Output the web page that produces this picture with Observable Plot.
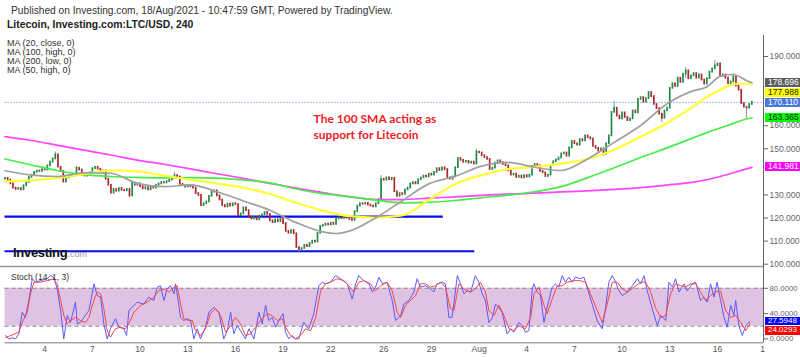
<!DOCTYPE html>
<html><head><meta charset="utf-8">
<script src="https://cdn.jsdelivr.net/npm/d3@7"></script>
<script src="https://cdn.jsdelivr.net/npm/@observablehq/plot@0.6"></script>
<style>
body{margin:0;background:#fff;}
#wrap{position:relative;width:800px;height:357px;overflow:hidden;font-family:"Liberation Sans",Arial,sans-serif;background:#fff;}
#wrap svg{position:absolute;left:0;}
.abs{position:absolute;white-space:nowrap;}
.badge{position:absolute;left:765px;width:35px;padding-left:3px;box-sizing:border-box;}
</style></head><body><div id="wrap"></div>
<script>
// ---------- DATA ----------
const firstOpen = 136.8;
const closes = [
137.2,136.4,134.8,133.0,132.4,132.8,132.2,134.0,135.4,137.6,
138.6,139.8,140.4,140.2,141.0,140.8,142.6,144.2,145.6,147.4,
142.0,140.2,135.6,137.4,138.4,138.0,138.6,141.6,140.8,138.4,
138.2,138.8,139.6,141.4,142.0,141.2,139.8,140.4,136.8,134.2,
130.8,132.4,131.6,132.8,132.0,131.8,132.4,129.6,135.0,134.2,
134.8,133.6,132.6,133.2,132.2,133.6,133.0,134.2,134.8,135.4,
135.2,135.8,136.4,137.6,138.4,137.8,134.6,134.0,133.4,134.2,
133.6,133.0,130.6,129.8,125.4,126.2,127.0,129.4,131.2,131.8,
129.6,127.8,125.4,124.8,126.0,125.2,126.2,125.8,121.0,121.8,
124.4,123.2,120.4,119.6,120.2,119.2,120.8,121.4,122.4,121.6,
118.8,118.0,119.2,118.4,119.4,117.6,114.2,113.4,114.6,113.2,
107.2,106.2,106.8,108.2,107.6,109.0,110.0,109.6,113.4,116.4,
116.8,117.4,117.0,117.8,117.2,119.6,120.2,119.8,120.6,120.0,
119.4,119.0,122.8,125.2,126.2,126.0,126.4,125.6,125.2,124.8,
126.2,128.0,136.8,136.4,137.4,136.6,137.2,131.4,129.4,130.6,
130.2,132.2,133.0,134.8,135.4,134.8,136.6,137.4,138.2,137.8,
139.0,138.6,139.8,141.4,140.6,141.8,141.0,137.4,136.8,137.8,
141.8,145.8,145.0,144.2,144.6,143.8,144.2,143.4,148.6,148.2,
147.0,146.2,145.4,141.0,141.6,143.8,144.8,144.0,143.2,142.6,
140.4,138.6,139.0,137.6,138.2,137.4,138.4,137.8,138.6,142.4,
143.2,142.6,140.2,139.6,138.0,138.6,142.8,144.4,145.2,146.0,
147.8,148.2,146.8,150.4,153.2,152.2,151.6,154.0,153.4,155.6,
154.8,154.2,151.0,150.2,149.0,150.0,147.6,152.2,155.6,165.8,
167.6,164.2,163.0,165.6,163.6,162.2,163.0,166.4,165.6,171.4,
172.2,170.2,171.8,174.4,172.6,169.2,167.4,165.0,163.2,166.4,
167.6,176.2,178.2,177.0,180.6,178.8,182.4,183.8,180.4,181.6,
182.6,180.6,182.0,179.8,178.0,180.4,183.2,184.6,186.0,186.8,
181.4,182.0,180.6,178.2,179.0,181.2,177.2,175.4,169.6,168.0,167.6,169.2,170.11
];
const wickIdx  = [19, 27, 47, 64, 111, 142, 178, 226, 230, 248, 257, 268, 275, 280];
const wickLow  = [145.4,138.4,128.8,137.6,104.8,128.0,143.4,146.6,165.8,161.4,180.6,184.6,179.0,163.1];
const wickHigh = [148.6,142.4,132.4,139.8,107.2,138.4,149.8,150.2,170.6,165.0,185.2,188.3,182.6,168.0];

const maIdx = [0,10,20,30,40,50,60,70,80,90,100,110,120,125,130,140,150,160,170,180,190,200,210,220,230,240,250,260,265,270,275,280,282];
const ma20close = [140.5,138.6,138.0,139.6,139.4,135.0,133.6,134.4,131.4,127.4,123.4,118.0,114.0,113.3,114.3,120.1,127.5,134.8,138.1,142.5,144.1,142.0,140.6,145.6,152.8,160.1,169.5,175.2,176.8,181.4,182.2,179.6,178.696];
const ma50high  = [135.9,136.3,137.4,139.0,140.6,140.2,138.4,136.6,135.0,133.2,130.4,126.6,123.2,121.8,120.8,120.2,121.1,127.8,134.8,138.6,141.2,142.2,143.6,145.6,149.6,155.2,161.2,168.4,172.5,175.5,178.0,178.3,177.988];
const ma100high = [145.6,143.0,140.5,138.8,138.0,137.6,137.4,137.5,137.3,136.5,135.2,132.6,130.6,129.9,129.2,127.8,126.6,126.8,127.6,128.8,129.9,131.4,133.6,137.5,141.8,146.2,150.4,154.8,157.0,159.0,161.0,162.9,163.365];
const ma200low  = [155.3,153.6,151.5,149.4,147.3,145.1,143.3,141.3,139.2,137.2,135.0,133.0,131.0,130.1,129.3,128.0,128.0,128.6,129.2,129.8,130.4,130.8,131.3,131.8,132.4,133.2,134.3,135.6,136.6,138.0,139.6,141.3,141.981];
const maNames = ["MA (20, close, 0)","MA (100, high, 0)","MA (200, low, 0)","MA (50, high, 0)"];

const supportLevel = [120.6, 105.6];
const supportFrom  = [0, 0];
const supportTo    = [165.5, 177.4];
const lastPrice = 170.11;

const kIdx = [0.2,1.4,2.7,4.0,5.2,6.5,7.7,9.0,10.3,11.5,13.4,15.9,17.2,18.4,19.7,21.0,22.2,23.5,24.7,25.4,26.6,27.3,28.5,29.8,31.7,33.6,34.8,36.1,37.3,38.6,39.8,41.7,43.0,44.9,45.9,46.8,48.0,49.9,52.4,54.3,56.2,57.5,58.7,60.0,61.2,62.5,63.8,64.4,65.0,66.3,67.5,68.8,70.1,71.3,72.6,73.8,75.7,77.0,78.9,80.8,82.6,83.9,85.2,86.4,87.7,88.9,90.8,92.1,94.0,95.9,97.1,98.4,99.6,100.9,102.2,103.4,105.0,105.9,107.2,108.4,109.7,110.9,112.8,114.7,116.6,118.5,119.8,121.0,122.9,124.8,126.7,129.2,131.1,132.4,133.6,135.5,137.4,138.7,139.9,141.2,142.5,144.3,146.2,147.5,149.4,
150.6,152.5,154.4,155.6,156.9,158.8,160.7,161.9,163.2,165.1,166.3,167.6,168.8,170.8,172.0,173.3,174.5,175.8,177.6,178.9,180.2,181.4,182.7,183.9,185.2,186.4,187.7,189.6,190.9,192.1,194.0,195.3,196.5,197.8,199.1,199.7,200.9,202.2,203.5,204.7,206.6,207.9,209.1,210.4,211.6,212.9,214.2,215.4,217.3,218.6,219.8,221.7,223.6,225.5,226.8,228.0,229.3,230.6,231.8,233.1,235.0,236.9,238.8,240.0,241.3,242.5,244.4,246.3,247.6,249.5,250.7,252.0,253.2,254.5,256.4,257.6,259.5,260.8,262.6,263.9,265.2,266.4,267.7,268.9,270.2,271.5,272.7,274.0,275.2,275.9,277.1,278.4,279.7,281.3];
const kVal = [5.4,0,1.7,0,8,42,34,60.7,95,89.6,92,95,100,97.5,79,45,0,37,26,37,58,24,26,34,45,87,68.6,66,24,0,16,32,18.5,16,5.4,45,50,58,55,66,60.7,81.7,84,60.7,79,84,71,87,71,34,29,32,29,0,16,0,18.5,42,50,42,0,13,42,8,21,13,0,16,0,42,24,53,29,34,18.5,29,40,10.6,0,5.4,0,0,26,16,40,84,89.6,87,89.6,100,95,87,63,87,100,92,87,74,81.7,97.5,87,89.6,60.7,29,37,
55,60.7,74,95,81.7,84,79,74,87,89.6,87,34,34,100,87,71,76,74,100,89.6,71,60.7,26,32,55,50,42,8,16,10.6,26,21,10.6,13,79,87,74,68.6,26,50,81.7,87,81.7,100,89.6,97.5,89.6,97.5,95,97.5,81.7,55,29,16,50,89.6,100,89.6,76,68.6,74,84,95,87,100,76,47.5,21,37,29,89.6,81.7,95,74,87,76,87,89.6,60.7,66,58,87,66,89.6,60.7,34,18.5,53,37,60.7,21,5.4,21,27.5948];
const dIdx = [0.2,5.2,6.5,8.4,9.6,10.9,13.4,15.9,18.4,19.7,21.0,22.2,23.5,24.7,26.6,28.5,30.4,31.7,33.5,34.8,36.1,37.3,38.6,39.8,41.7,43.6,45.5,46.8,48.7,51.2,53.7,56.2,58.1,60.0,61.9,63.8,65.0,66.3,67.5,69.4,70.7,71.9,73.8,75.7,77.6,79.5,81.4,83.3,85.2,87.0,88.9,90.8,92.7,94.6,96.5,99.0,100.9,102.8,104.7,105.9,107.8,109.7,111.6,113.5,115.4,117.3,119.2,121.0,122.9,125.4,128.0,129.8,131.7,133.6,135.5,138.0,139.9,141.8,144.3,146.2,148.1,149.4,
151.2,153.1,155.0,156.9,158.8,160.7,162.6,164.5,166.3,168.2,169.5,171.4,173.3,175.8,177.6,179.5,181.4,182.7,184.6,186.5,188.4,190.3,192.1,194.0,196.5,198.5,199.7,201.6,203.5,204.7,206.6,208.5,210.4,212.3,214.8,217.3,219.2,221.1,223.6,225.5,227.4,229.3,231.2,233.1,235.0,237.5,240.0,241.9,243.8,245.7,247.6,249.5,251.3,253.2,255.1,257.0,258.9,260.8,262.6,264.5,266.4,268.3,270.2,272.1,274.0,275.9,277.8,279.7,281.3];
const dVal = [2,10.6,26,42,71,89.6,89.6,92,95,87,60.7,37,24,29,34,29,26,34,60.7,74,71,48,13,2.7,16,18.5,16,24,42,53,58,66,76,79,74,81.7,84,55,32,29,29,13,5.4,16,40,48,37,10.6,21,34,24,5.4,8,18.5,29,40,37,29,32,18.5,5.4,0,5.4,16,13,34,76,87,89.6,95,92,84,74,89.6,92,87,76,84,89.6,76,42,34,
53,60.7,68.6,87,87,81.7,84,89.6,81.7,48,45,87,79,74,79,89.6,74,45,37,53,37,16,13,21,16,34,71,81.7,53,40,63,84,84,89.6,92,92,89.6,71,45,26,55,89.6,89.6,79,74,81.7,89.6,89.6,74,48,34,37,71,87,84,81.7,87,87,74,60.7,68.6,74,76,45,34,37,26,13,24.0293];
const stochBand = [20, 80];

const priceTicks = [100,110,120,130,140,150,160,170,180,190];
const stochTicks = [0,40,80];
const xTickIdx = [15,33,51,69,87,105,123,143,161,179,197,215,233,251,269,287];
const xTickLabels = ["4","7","10","13","16","19","22","26","29","Aug","4","7","10","13","16","19"];

const annotationText = "The 100 SMA acting as\nsupport for Litecoin";
const annotationAt = {i: 116.5, price: 159.9};

// ---------- BUILD ----------
const X0 = -1.7, X1 = 286.4;
const PY = [99.0, 199.1], SY = [-6.16, 114.4];
const UP = "#1f8a46", DOWN = "#a8282b";
const candles = closes.map((c, i) => ({i, open: i === 0 ? firstOpen : closes[i - 1], close: c}));
const wicks = wickIdx.map((i, k) => ({i, low: wickLow[k], high: wickHigh[k]}));
const maRows = (vals) => maIdx.map((i, k) => ({i, v: vals[k]}));
const supports = supportLevel.map((v, k) => ({v, from: supportFrom[k], to: supportTo[k]}));
const kRows = kIdx.map((i, k) => ({i, v: kVal[k]}));
const dRows = dIdx.map((i, k) => ({i, v: dVal[k]}));
const labelMap = new Map(xTickIdx.map((t, k) => [t, xTickLabels[k]]));
const last = a => a[a.length - 1];

// badge layout (same linear mapping as the plot scales)
const pyScale = d3.scaleLinear(PY, [266, 35]);
const syScale = d3.scaleLinear(SY, [77.3, 1]);
function layoutBadges(items, scale, offset, gap) {
  const rows = items.map(d => ({...d, y: scale(d.v) + offset})).sort((a, b) => a.y - b.y);
  for (let k = 1; k < rows.length; k++) if (rows[k].y < rows[k - 1].y + gap) rows[k].y = rows[k - 1].y + gap;
  return rows;
}
const mainBadges = layoutBadges([
  {v: last(ma20close), label: last(ma20close).toFixed(3), bg: "#5e5e5e", fg: "#fff"},
  {v: last(ma50high), label: last(ma50high).toFixed(3), bg: "#ffff00", fg: "#222"},
  {v: lastPrice, label: lastPrice.toFixed(3), bg: "#4a78dc", fg: "#fff"},
  {v: last(ma100high), label: last(ma100high).toFixed(3), bg: "#00ff00", fg: "#222"},
  {v: last(ma200low), label: last(ma200low).toFixed(3), bg: "#ff00ff", fg: "#fff"}
], pyScale, 0, 10).map(d => ({...d, h: 9, fs: 8.5}));
const stochBadges = layoutBadges([
  {v: last(kVal), label: last(kVal).toFixed(4), bg: "#0000ff", fg: "#fff"},
  {v: last(dVal), label: last(dVal).toFixed(4), bg: "#ff0000", fg: "#fff"}
], syScale, 265, 9.4).map(d => ({...d, h: 8.4, fs: 8}));
// tick labels hidden behind a badge are not shown (as in the reference)
const visiblePriceTicks = priceTicks.filter(t => mainBadges.every(b => Math.abs(pyScale(t) - b.y) > 6));
const visibleStochTicks = stochTicks.filter(t => stochBadges.every(b => Math.abs(syScale(t) + 265 - b.y) > 6));

const wrap = document.getElementById("wrap");

const main = Plot.plot({
  width: 800, height: 266, marginTop: 35, marginBottom: 0, marginLeft: 0, marginRight: 37,
  style: {background: "transparent", overflow: "visible", fontFamily: "Liberation Sans, Arial, sans-serif"},
  x: {domain: [X0, X1], axis: null},
  y: {domain: PY, axis: null},
  marks: [
    Plot.ruleY([lastPrice], {x1: 0, x2: X1, stroke: "#5577dd", strokeWidth: 1, strokeDasharray: "1,2"}),
    Plot.ruleY(supports, {y: "v", x1: "from", x2: "to", stroke: "#0a0aee", strokeWidth: 2.2}),
    Plot.ruleX(wicks, {x: "i", y1: "low", y2: "high", stroke: "#8c9c93", strokeWidth: 1}),
    Plot.ruleX(candles, {x: "i", y1: "open", y2: "close", stroke: d => d.close >= d.open ? UP : DOWN, strokeWidth: 1.7, strokeLinecap: "square"}),
    Plot.line(maRows(ma200low), {x: "i", y: "v", stroke: "#ff44ff", strokeWidth: 1.7, curve: "monotone-x"}),
    Plot.line(maRows(ma100high), {x: "i", y: "v", stroke: "#44ee44", strokeWidth: 1.7, curve: "monotone-x"}),
    Plot.line(maRows(ma50high), {x: "i", y: "v", stroke: "#ffff33", strokeWidth: 2.2, curve: "monotone-x"}),
    Plot.line(maRows(ma20close), {x: "i", y: "v", stroke: "#a0a0a0", strokeWidth: 1.7, curve: "monotone-x"}),
    Plot.ruleX([X1], {stroke: "#666", strokeWidth: 1}),
    Plot.axisY({anchor: "right", label: null, ticks: visiblePriceTicks, tickFormat: d => d.toFixed(3), tickSize: 4, tickPadding: 2, fontSize: 8.5, color: "#666"}),
    Plot.text([annotationAt], {x: "i", y: "price", text: () => annotationText, textAnchor: "start", lineAnchor: "middle", lineHeight: 1.3, fontSize: 12, fontWeight: "bold", fontFamily: "Lato, sans-serif", fill: "#ee1c25"})
  ]
});
main.style.top = "0px";
wrap.appendChild(main);

const stoch = Plot.plot({
  width: 800, height: 92, marginTop: 1, marginBottom: 14.7, marginLeft: 0, marginRight: 37,
  style: {background: "transparent", overflow: "visible", fontFamily: "Liberation Sans, Arial, sans-serif"},
  x: {domain: [X0, X1], axis: null},
  y: {domain: SY, axis: null},
  marks: [
    Plot.rect([stochBand], {x1: 0, x2: X1, y1: d => d[0], y2: d => d[1], fill: "#e0c2e3"}),
    Plot.ruleY(stochBand, {x1: 0, x2: X1, stroke: "#8a8a8a", strokeWidth: 1, strokeDasharray: "4,3"}),
    Plot.line(kRows, {x: "i", y: "v", stroke: "#5a5aff", strokeWidth: 1}),
    Plot.line(dRows, {x: "i", y: "v", stroke: "#ff4444", strokeWidth: 1}),
    Plot.ruleY([SY[1]], {stroke: "#999", strokeWidth: 1.3}),
    Plot.ruleY([SY[0]], {x1: 0, x2: X1, stroke: "#777", strokeWidth: 1}),
    Plot.ruleX([X1], {stroke: "#666", strokeWidth: 1}),
    Plot.axisX({label: null, ticks: xTickIdx, tickFormat: d => labelMap.get(d), tickSize: 0, tickPadding: 3, fontSize: 8.5, color: "#555"}),
    Plot.axisY({anchor: "right", label: null, ticks: visibleStochTicks, tickFormat: d => d.toFixed(4), tickSize: 4, tickPadding: 2, fontSize: 7.8, color: "#666"})
  ]
});
stoch.style.top = "265px";
wrap.appendChild(stoch);

function addText(txt, left, centerY, size, opts = {}) {
  const el = document.createElement("div");
  el.className = "abs";
  el.textContent = txt;
  el.style.left = left + "px";
  el.style.top = (centerY - size * 0.6) + "px";
  el.style.fontSize = size + "px";
  el.style.lineHeight = (size * 1.2) + "px";
  el.style.color = opts.color || "#333";
  if (opts.weight) el.style.fontWeight = opts.weight;
  wrap.appendChild(el);
  return el;
}
addText("Published on Investing.com, 18/Aug/2021 - 10:47:59 GMT, Powered by TradingView.", 11, 11.2, 10.2, {color: "#333"});
addText("Litecoin, Investing.com:LTC/USD, 240", 7, 25, 10.4, {weight: "bold", color: "#222"});
maNames.forEach((n, k) => addText(n, 7, 43.3 + k * 9, 9, {color: "#333"}));
addText("Stoch (14, 1, 3)", 11, 276.7, 8.5, {color: "#333"});
const logo = addText("Investing", 13, 252.5, 13, {weight: "bold", color: "#111"});
logo.style.letterSpacing = "-0.3px";
const com = document.createElement("span");
com.textContent = ".com";
com.style.fontSize = "9px"; com.style.fontWeight = "normal"; com.style.color = "#999"; com.style.letterSpacing = "0";
logo.appendChild(com);

// cover for the clipped last x-label
const cover = document.createElement("div");
cover.style.cssText = "position:absolute;left:765px;top:343px;width:35px;height:14px;background:#fff;";
wrap.appendChild(cover);

[...mainBadges, ...stochBadges].forEach(d => {
  const el = document.createElement("div");
  el.className = "badge";
  el.textContent = d.label;
  el.style.top = (d.y - d.h / 2) + "px";
  el.style.height = d.h + "px";
  el.style.lineHeight = d.h + "px";
  el.style.fontSize = d.fs + "px";
  el.style.background = d.bg;
  el.style.color = d.fg;
  wrap.appendChild(el);
});
</script></body></html>
